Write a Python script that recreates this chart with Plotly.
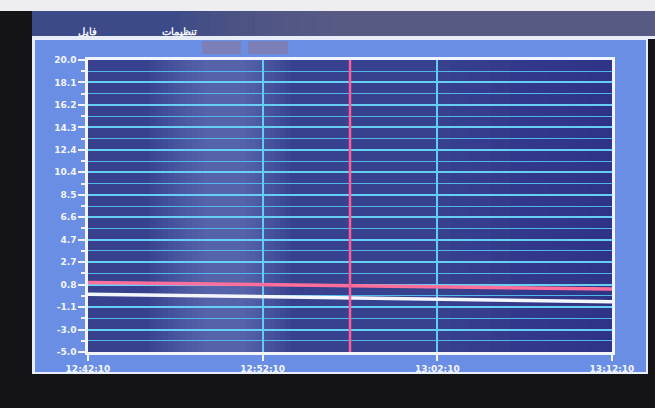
import plotly.graph_objects as go
import numpy as np

# ---- data ----
time_labels = ["12:42:10", "12:52:10", "13:02:10", "13:12:10"]
time_values = ["2024-01-01 12:42:10", "2024-01-01 12:52:10",
               "2024-01-01 13:02:10", "2024-01-01 13:12:10"]
y_tick_labels = ["-5.0", "-3.0", "-1.1", "0.8", "2.7", "4.7", "6.6",
                 "8.5", "10.4", "12.4", "14.3", "16.2", "18.1", "20.0"]
y_min, y_max = -5.0, 20.0

red_times = ["2024-01-01 12:42:10", "2024-01-01 13:12:10"]
red_values = [0.95, 0.4]
white_times = ["2024-01-01 12:42:10", "2024-01-01 13:12:10"]
white_values = [-0.05, -0.7]
cursor_time = "2024-01-01 12:57:10"

menu_labels = ["فایل", "تنظیمات"]

# ---- layout geometry (pixels) ----
W, H = 655, 408
L, R, T, B = 88, 612, 60, 352


def px(x):
    return (x - L) / (R - L)


def py(y):
    return (B - y) / (B - T)


y_major = list(np.linspace(y_min, y_max, len(y_tick_labels)))
step = y_major[1] - y_major[0]
y_minor = [v + step / 2 for v in y_major[:-1]]

fig = go.Figure()

fig.add_trace(go.Scatter(x=red_times, y=red_values, mode="lines",
                         line=dict(color="#ff6f9c", width=3.5),
                         hoverinfo="skip", showlegend=False))
fig.add_trace(go.Scatter(x=white_times, y=white_values, mode="lines",
                         line=dict(color="#f4f6ff", width=3.5),
                         hoverinfo="skip", showlegend=False))
fig.add_trace(go.Scatter(x=[cursor_time, cursor_time], y=[y_min, y_max],
                         mode="lines", line=dict(color="#ff5c95", width=2.5),
                         hoverinfo="skip", showlegend=False))

shapes = []


def rect(x0, y0, x1, y1, color, layer="below", opacity=1.0):
    shapes.append(dict(type="rect", xref="paper", yref="paper",
                       x0=px(x0), x1=px(x1), y0=py(y1), y1=py(y0),
                       fillcolor=color, line=dict(width=0),
                       layer=layer, opacity=opacity))


# photo surroundings
rect(0, 0, W, 11, "#eeeef0")
rect(0, 11, 32, H, "#141417")
rect(0, 374, W, H, "#141417")
# header bar with gradient towards grey on the right
rect(32, 11, W, 36, "#3d4a88")
for i in range(12):
    rect(180 + i * 15, 11, W, 36, "#626480", opacity=0.12)
rect(32, 36, W, 39, "#e8ecf8")
# window panel
rect(32, 39, 648, 374, "#e9eefc")
rect(35, 40, 646, 372, "#6a8ee4")
# small grey buttons
rect(202, 41, 241, 54, "#7d80b8")
rect(248, 41, 288, 54, "#7d80b8")
# plot background with soft lighting
rect(L, T, R, B, "#37418e")
for i in range(10):
    rect(150 + i * 6, T, 290 - i * 5, B, "#8a98d8", opacity=0.05)
for i in range(8):
    rect(450 + i * 20, T, R, B, "#26307a", opacity=0.07)

fig.update_layout(
    width=W, height=H,
    margin=dict(l=L, r=W - R, t=T, b=H - B),
    paper_bgcolor="#141417",
    plot_bgcolor="rgba(0,0,0,0)",
    showlegend=False,
    shapes=shapes,
    xaxis=dict(
        type="date",
        range=[time_values[0], time_values[-1]],
        tickmode="array", tickvals=time_values,
        ticktext=["<b>%s</b>" % t for t in time_labels],
        showgrid=True, gridcolor="#62cdf2", gridwidth=2,
        showline=True, linecolor="#f2f4ff", linewidth=2.5, mirror=True,
        ticks="outside", ticklen=6, tickcolor="#f2f4ff", tickwidth=1.5,
        tickfont=dict(family="DejaVu Sans", size=9, color="#f4f6ff"),
        zeroline=False, fixedrange=True,
    ),
    yaxis=dict(
        range=[y_min, y_max],
        tickmode="array", tickvals=y_major,
        ticktext=["<b>%s</b>" % t for t in y_tick_labels],
        showgrid=True, gridcolor="#68cff4", gridwidth=1.8,
        showline=True, linecolor="#f2f4ff", linewidth=2.5, mirror=True,
        ticks="outside", ticklen=7, tickcolor="#f2f4ff", tickwidth=1.5,
        tickfont=dict(family="DejaVu Sans", size=9, color="#f4f6ff"),
        minor=dict(tickmode="array", tickvals=y_minor, showgrid=True,
                   gridcolor="#52b6ea", gridwidth=1.4, ticks="outside",
                   ticklen=4, tickcolor="#f2f4ff"),
        zeroline=False, fixedrange=True,
    ),
    annotations=[
        dict(text="<b>%s</b>" % menu_labels[0], xref="paper", yref="paper",
             x=px(76), y=py(22), showarrow=False,
             font=dict(family="Noto Sans", size=10, color="#f4f6ff")),
        dict(text="<b>%s</b>" % menu_labels[1], xref="paper", yref="paper",
             x=px(160), y=py(22), showarrow=False,
             font=dict(family="Noto Sans", size=10, color="#f4f6ff")),
    ],
)

fig.write_html("out.html",
               config={"displayModeBar": False},
               post_script="document.body.style.margin='0';"
                           "document.body.style.overflow='hidden';")
